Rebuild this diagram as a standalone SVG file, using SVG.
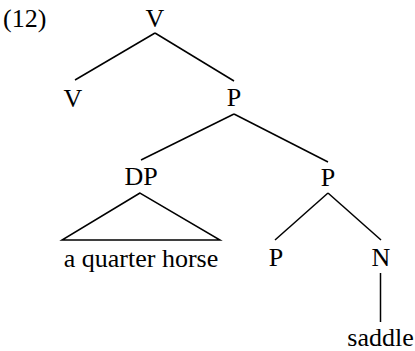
<svg xmlns="http://www.w3.org/2000/svg" width="415" height="351" viewBox="0 0 415 351">
<style>
.c line,.c polygon{stroke:#000;stroke-width:1.5;fill:none}
</style>
<rect width="415" height="351" fill="#fff"/>
<g font-family="Liberation Serif, serif" font-size="26" fill="#000" text-anchor="middle">
<text x="3" y="27" text-anchor="start">(12)</text>
</g>
<g class="c" id="connectors">
<line x1="155" y1="33" x2="75" y2="80"/>
<line x1="155" y1="33" x2="234" y2="81"/>
<line x1="234" y1="114" x2="141" y2="160"/>
<line x1="234" y1="114" x2="328" y2="162"/>
<polygon points="140,193 62,240 220,240"/>
<line x1="328" y1="193" x2="275" y2="240"/>
<line x1="328" y1="193" x2="381" y2="240"/>
<line x1="380.5" y1="273" x2="380.5" y2="322"/>
</g>
<g font-family="Liberation Serif, serif" font-size="26" fill="#000" text-anchor="middle">
<g id="n-V-top"><text x="155" y="27">V</text></g>
<g id="n-V-left"><text x="73" y="107">V</text></g>
<g id="n-P-mid"><text x="234" y="106">P</text></g>
<g id="n-DP"><text x="141" y="185">DP</text></g>
<g id="n-P-right"><text x="328" y="186">P</text></g>
<g id="n-horse"><text x="141" y="267">a quarter horse</text></g>
<g id="n-P-low"><text x="276" y="266">P</text></g>
<g id="n-N"><text x="381" y="266">N</text></g>
<g id="n-saddle"><text x="380.5" y="346">saddle</text></g>
</g>
</svg>
